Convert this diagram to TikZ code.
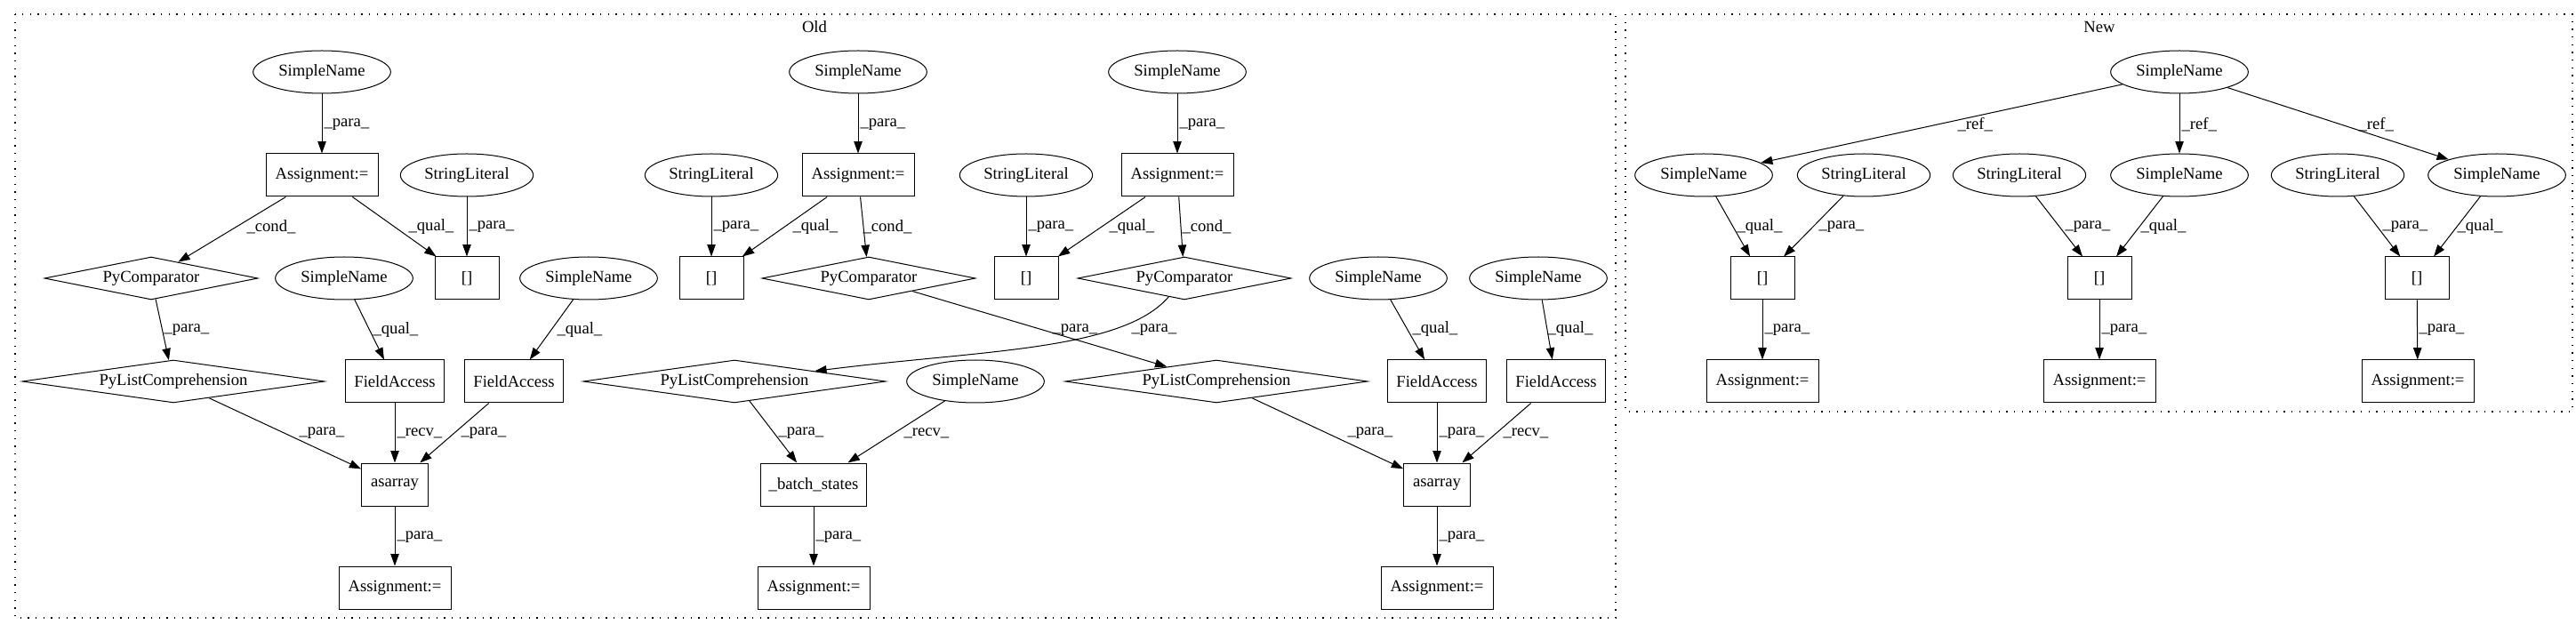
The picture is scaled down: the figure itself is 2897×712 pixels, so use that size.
\documentclass[tikz,border=0pt]{standalone}
\usepackage{fontspec}
\setmainfont{Liberation Serif}
\usetikzlibrary{shapes.geometric,arrows.meta}
\begin{document}
\begin{tikzpicture}[x=0.75pt,y=-0.75pt,
  every node/.style={font=\fontsize{14}{16}\selectfont},
  ell/.style={draw,ellipse,line width=0.75pt,inner sep=0pt,minimum height=36pt,minimum width=116pt},
  lit/.style={ell,minimum width=112pt},
  box/.style={draw,rectangle,line width=0.75pt,inner sep=0pt,minimum height=36pt},
  asg/.style={box,minimum width=94.5pt},
  brk/.style={box,minimum width=54pt},
  fac/.style={box,minimum width=83pt},
  asr/.style={box,minimum width=56pt},
  dia/.style={draw,diamond,line width=0.75pt,inner sep=0pt,aspect=8,minimum height=36pt},
  cmp/.style={dia,minimum width=177pt},
  plc/.style={dia,minimum width=255pt},
  arr/.style={-{Triangle[length=10pt,width=7pt]},line width=0.75pt},
  lbl/.style={anchor=west,inner sep=0pt},
  clus/.style={draw,line width=1pt,dash pattern=on 1pt off 5.5pt}
]
\useasboundingbox (0,0) rectangle (2897,712);
% clusters
\draw[clus] (17,16) rectangle (1817,695);
\draw[clus] (1828,16) rectangle (2893,463);
\node (oldlbl) at (916,30) {Old};
\node (newlbl) at (2361,30) {New};

% ---- Old ----
\node[ell] (sn1) at (362,81) {SimpleName};
\node[asg] (a1) at (362,197) {Assignment:=};
\node[lit] (sl1) at (525,197) {StringLiteral};
\node[brk] (br1) at (525,313) {[]};
\node[cmp] (pc1) at (170,313) {PyComparator};
\node[ell] (sn2) at (387,313) {SimpleName};
\node[ell] (sn3) at (662,313) {SimpleName};
\node[plc] (plc1) at (195,429) {PyListComprehension};
\node[fac] (fa1) at (444,429) {FieldAccess};
\node[fac] (fa2) at (578,429) {FieldAccess};
\node[asr] (as1) at (444,545) {asarray};
\node[asg] (ab1) at (444,661) {Assignment:=};

\node[ell] (sn4) at (965,81) {SimpleName};
\node[asg] (a2) at (965,197) {Assignment:=};
\node[lit] (sl2) at (800,197) {StringLiteral};
\node[brk] (br2) at (800,313) {[]};
\node[cmp] (pc2) at (977,313) {PyComparator};

\node[ell] (sn5) at (1324,81) {SimpleName};
\node[asg] (a3) at (1324,197) {Assignment:=};
\node[lit] (sl3) at (1154,197) {StringLiteral};
\node[brk] (br3) at (1154,313) {[]};
\node[cmp] (pc3) at (1332,313) {PyComparator};

\node[plc] (plc2) at (826,429) {PyListComprehension};
\node[ell] (sn8) at (1097,429) {SimpleName};
\node[box,minimum width=89pt] (bs) at (915,545) {\_batch\_states};
\node[asg] (ab2) at (915,661) {Assignment:=};

\node[plc] (plc3) at (1368,429) {PyListComprehension};
\node[ell] (sn6) at (1550,313) {SimpleName};
\node[ell] (sn7) at (1730,313) {SimpleName};
\node[fac] (fa3) at (1616,429) {FieldAccess};
\node[fac] (fa4) at (1750,429) {FieldAccess};
\node[asr] (as2) at (1616,545) {asarray};
\node[asg] (ab3) at (1616,661) {Assignment:=};

\draw[arr] (sn1) -- (a1) node[lbl] at (364,140) {\_para\_};
\draw[arr] (a1) -- (pc1) node[lbl] at (277,255) {\_cond\_};
\draw[arr] (a1) -- (br1) node[lbl] at (459,255) {\_qual\_};
\draw[arr] (sl1) -- (br1) node[lbl] at (527,255) {\_para\_};
\draw[arr] (pc1) -- (plc1) node[lbl] at (184,371) {\_para\_};
\draw[arr] (sn2) -- (fa1) node[lbl] at (419,371) {\_qual\_};
\draw[arr] (sn3) -- (fa2) node[lbl] at (626,371) {\_qual\_};
\draw[arr] (plc1) -- (as1) node[lbl] at (336,487) {\_para\_};
\draw[arr] (fa1) -- (as1) node[lbl] at (446,487) {\_recv\_};
\draw[arr] (fa2) -- (as1) node[lbl] at (518,487) {\_para\_};
\draw[arr] (as1) -- (ab1) node[lbl] at (446,604) {\_para\_};

\draw[arr] (sn4) -- (a2) node[lbl] at (967,140) {\_para\_};
\draw[arr] (sl2) -- (br2) node[lbl] at (802,255) {\_para\_};
\draw[arr] (a2) -- (br2) node[lbl] at (891,255) {\_qual\_};
\draw[arr] (a2) -- (pc2) node[lbl] at (970,255) {\_cond\_};

\draw[arr] (sn5) -- (a3) node[lbl] at (1326,140) {\_para\_};
\draw[arr] (sl3) -- (br3) node[lbl] at (1156,255) {\_para\_};
\draw[arr] (a3) -- (br3) node[lbl] at (1247,255) {\_qual\_};
\draw[arr] (a3) -- (pc3) node[lbl] at (1329,255) {\_cond\_};

\draw[arr] (pc2) -- (plc3) node[lbl] at (1183,371) {\_para\_};
\draw[arr] (pc3) .. controls (1262,395) and (1100,394) .. (plc2) node[lbl] at (1272,371) {\_para\_};
\draw[arr] (plc2) -- (bs) node[lbl] at (875,487) {\_para\_};
\draw[arr] (sn8) -- (bs) node[lbl] at (1016,487) {\_recv\_};
\draw[arr] (bs) -- (ab2) node[lbl] at (917,604) {\_para\_};

\draw[arr] (sn6) -- (fa3) node[lbl] at (1588,370) {\_qual\_};
\draw[arr] (sn7) -- (fa4) node[lbl] at (1740,370) {\_qual\_};
\draw[arr] (plc3) -- (as2) node[lbl] at (1515,487) {\_para\_};
\draw[arr] (fa3) -- (as2) node[lbl] at (1618,487) {\_para\_};
\draw[arr] (fa4) -- (as2) node[lbl] at (1690,487) {\_recv\_};
\draw[arr] (as2) -- (ab3) node[lbl] at (1618,604) {\_para\_};

% ---- New ----
\node[ell] (snT) at (2451,81) {SimpleName};
\node[ell] (snL) at (1916,197) {SimpleName};
\node[lit] (slL) at (2096,197) {StringLiteral};
\node[lit] (slM) at (2271,197) {StringLiteral};
\node[ell] (snM) at (2451,197) {SimpleName};
\node[lit] (slR) at (2629,197) {StringLiteral};
\node[ell] (snR) at (2808,197) {SimpleName};
\node[brk] (brL) at (1982,313) {[]};
\node[brk] (brM) at (2361,313) {[]};
\node[brk] (brR) at (2718,313) {[]};
\node[asg] (aL) at (1982,429) {Assignment:=};
\node[asg] (aM) at (2361,429) {Assignment:=};
\node[asg] (aR) at (2719,429) {Assignment:=};

\draw[arr] (snT) -- (snL) node[lbl] at (2201,140) {\_ref\_};
\draw[arr] (snT) -- (snM) node[lbl] at (2453,140) {\_ref\_};
\draw[arr] (snT) -- (snR) node[lbl] at (2652,140) {\_ref\_};
\draw[arr] (snL) -- (brL) node[lbl] at (1953,255) {\_qual\_};
\draw[arr] (slL) -- (brL) node[lbl] at (2045,255) {\_para\_};
\draw[arr] (brL) -- (aL) node[lbl] at (1984,371) {\_para\_};
\draw[arr] (slM) -- (brM) node[lbl] at (2322,255) {\_para\_};
\draw[arr] (snM) -- (brM) node[lbl] at (2407,255) {\_qual\_};
\draw[arr] (brM) -- (aM) node[lbl] at (2363,371) {\_para\_};
\draw[arr] (slR) -- (brR) node[lbl] at (2679,255) {\_para\_};
\draw[arr] (snR) -- (brR) node[lbl] at (2763,255) {\_qual\_};
\draw[arr] (brR) -- (aR) node[lbl] at (2720,371) {\_para\_};
\end{tikzpicture}
\end{document}
